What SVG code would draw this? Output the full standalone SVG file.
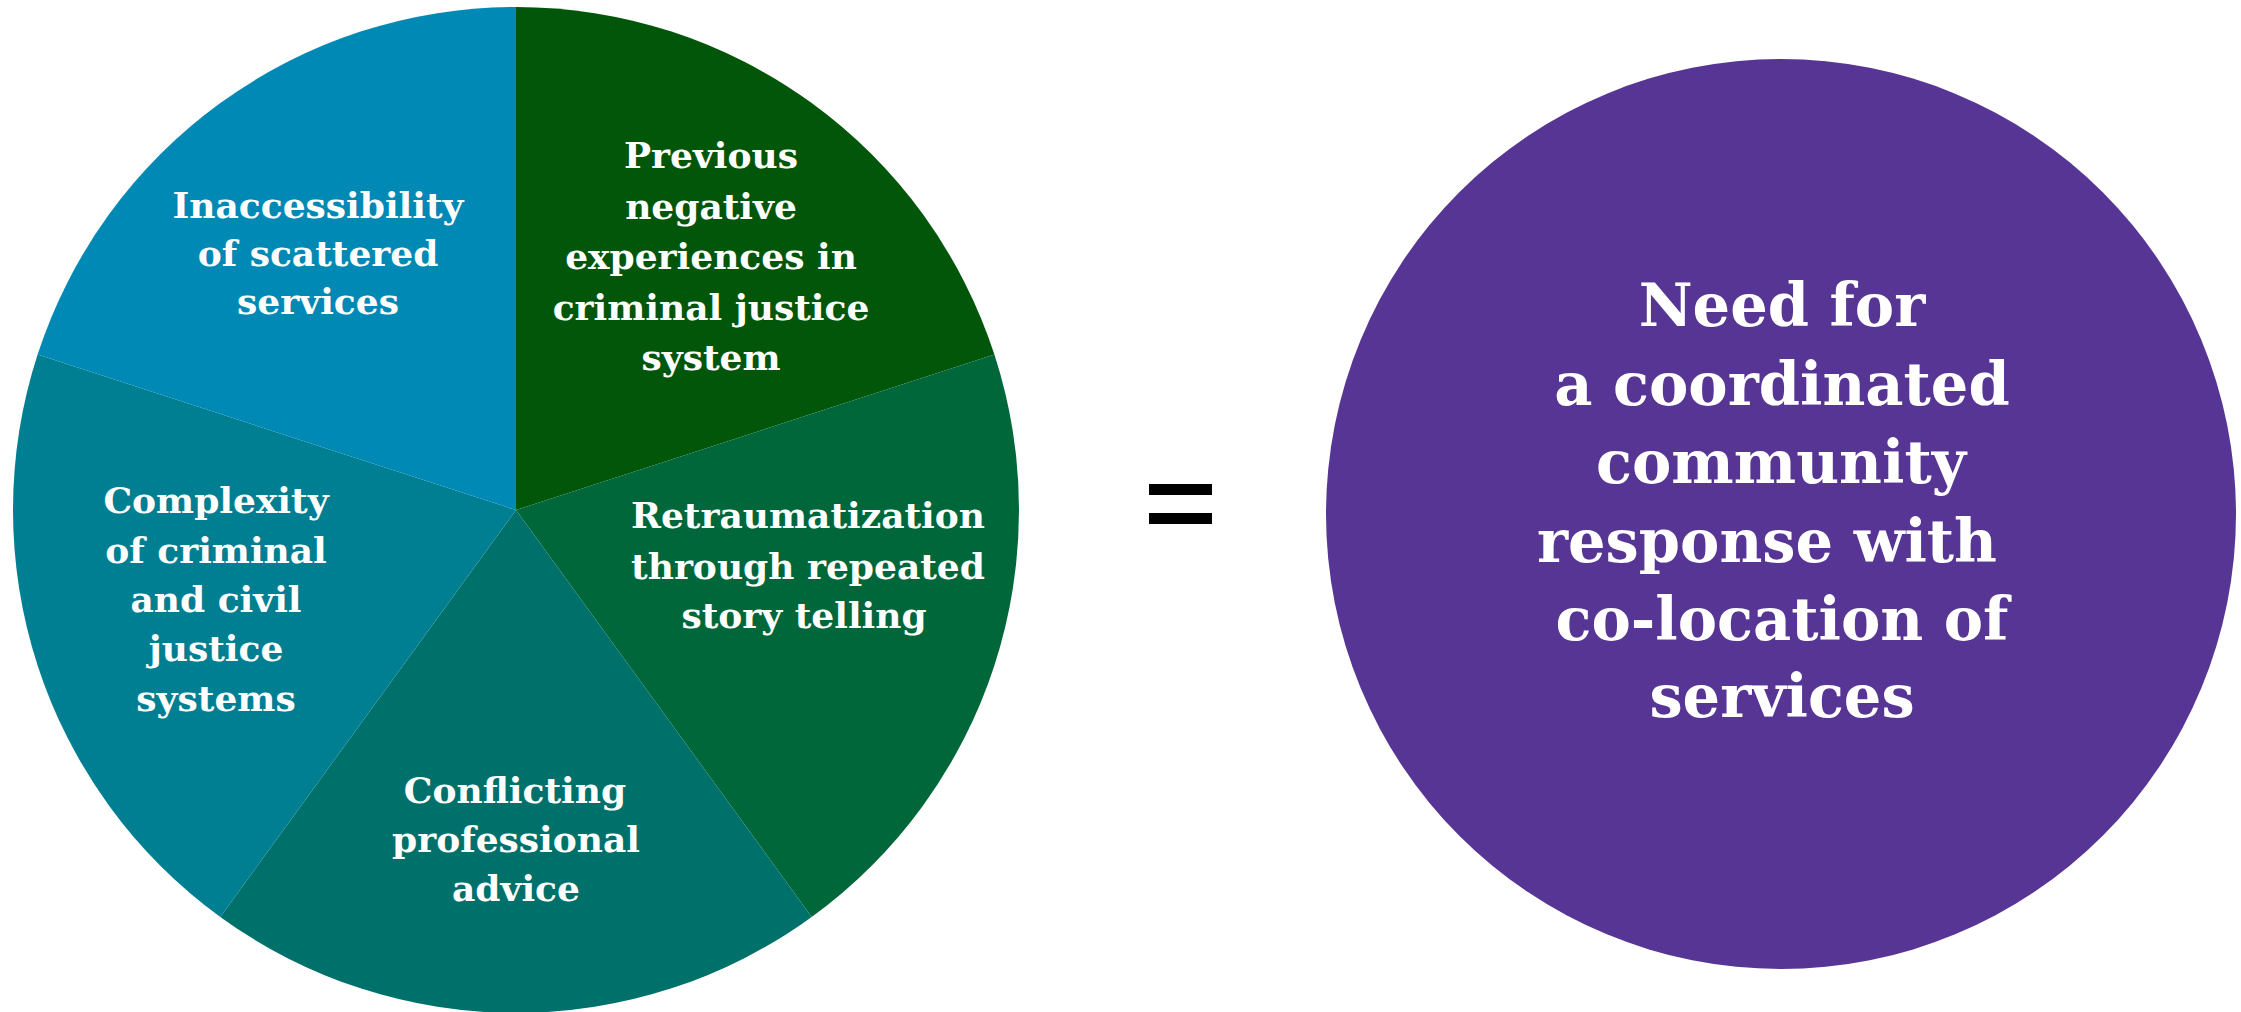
<svg xmlns="http://www.w3.org/2000/svg" width="2241" height="1012" viewBox="0 0 2241 1012">
  <style>
    .lbl { font-family: "DejaVu Serif", "Liberation Serif", serif; font-weight: bold; fill: #ffffff; text-anchor: middle; }
    .pie { font-size: 36px; }
    .big { font-size: 59px; }
  </style>
  <rect x="0" y="0" width="2241" height="1012" fill="#ffffff"/>
  <g id="slice-previous">
    <path d="M516,510 L516,7 A503,503 0 0 1 994.4,354.6 Z" fill="#02560A"/>
    <text class="lbl pie" x="711"><tspan x="711" y="168">Previous</tspan><tspan x="711" y="218.5">negative</tspan><tspan x="711" y="269">experiences in</tspan><tspan x="711" y="319.5">criminal justice</tspan><tspan x="711" y="370">system</tspan></text>
  </g>
  <g id="slice-retraumatization">
    <path d="M516,510 L994.4,354.6 A503,503 0 0 1 811.7,916.9 Z" fill="#00673B"/>
    <text class="lbl pie"><tspan x="808" y="528">Retraumatization</tspan><tspan x="808" y="579">through repeated</tspan><tspan x="804" y="628">story telling</tspan></text>
  </g>
  <g id="slice-conflicting">
    <path d="M516,510 L811.7,916.9 A503,503 0 0 1 220.3,916.9 Z" fill="#00716A"/>
    <text class="lbl pie"><tspan x="515" y="803">Conflicting</tspan><tspan x="516" y="852">professional</tspan><tspan x="516" y="901">advice</tspan></text>
  </g>
  <g id="slice-complexity">
    <path d="M516,510 L220.3,916.9 A503,503 0 0 1 37.6,354.6 Z" fill="#017F92"/>
    <text class="lbl pie"><tspan x="216" y="513">Complexity</tspan><tspan x="216" y="563">of criminal</tspan><tspan x="216" y="612">and civil</tspan><tspan x="216" y="661">justice</tspan><tspan x="216" y="711">systems</tspan></text>
  </g>
  <g id="slice-inaccessibility">
    <path d="M516,510 L37.6,354.6 A503,503 0 0 1 516,7 Z" fill="#0089B4"/>
    <text class="lbl pie"><tspan x="318" y="218">Inaccessibility</tspan><tspan x="318" y="266">of scattered</tspan><tspan x="318" y="314">services</tspan></text>
  </g>
  <g id="equals">
    <rect x="1149" y="484" width="63" height="11" fill="#000000"/>
    <rect x="1149" y="513" width="63" height="11" fill="#000000"/>
  </g>
  <g id="result">
    <circle cx="1781" cy="514" r="455" fill="#563594"/>
    <text class="lbl big"><tspan x="1782" y="326">Need for</tspan><tspan x="1782" y="405">a coordinated</tspan><tspan x="1781" y="483">community</tspan><tspan x="1767" y="562">response with</tspan><tspan x="1782" y="640">co-location of</tspan><tspan x="1782" y="717">services</tspan></text>
  </g>
  <g id="connectors"/>
</svg>
